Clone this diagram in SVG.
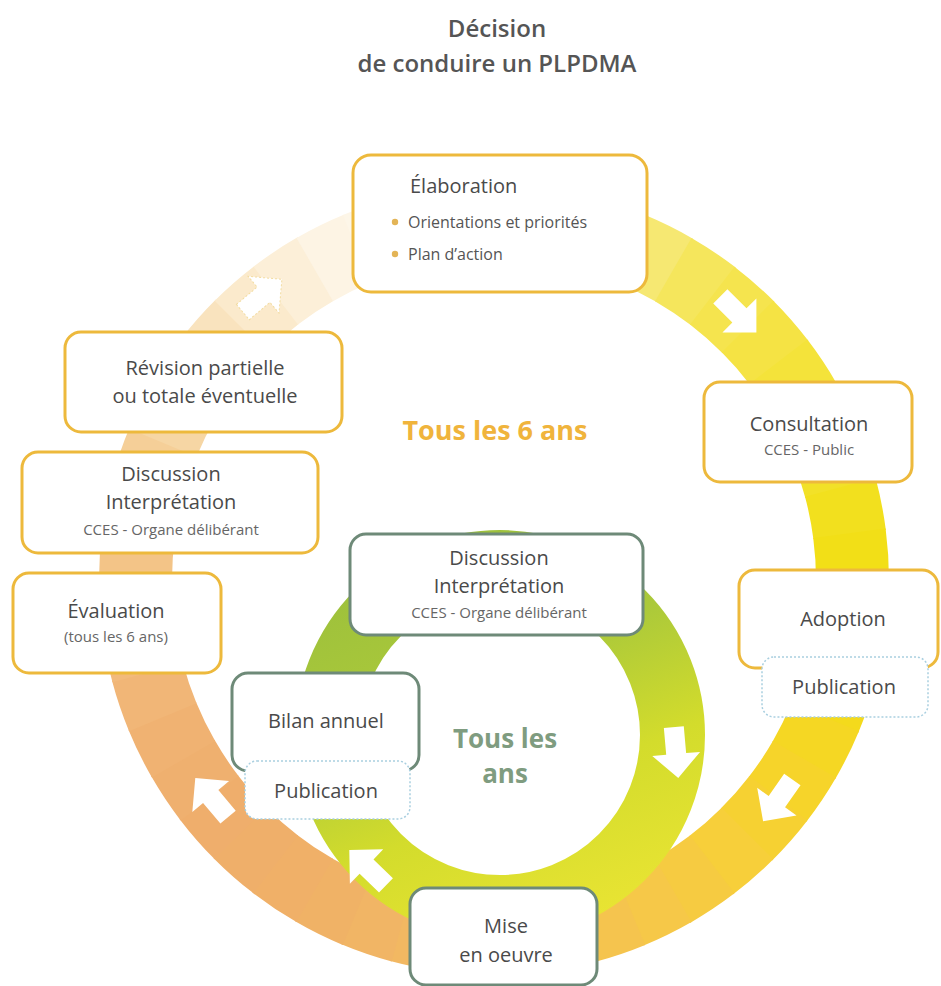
<svg xmlns="http://www.w3.org/2000/svg" xmlns:xlink="http://www.w3.org/1999/xlink" width="941" height="986" viewBox="0 0 941 986">
<defs>
<style>
text{font-family:"Open Sans","Noto Sans","Liberation Sans",sans-serif;}
.lbl{font-size:20px;fill:#4a4a4a;text-anchor:middle;}
.sub{font-size:15px;fill:#666;text-anchor:middle;}
.blt{font-size:16px;fill:#555;}
.ob{fill:#fff;stroke:#edb93c;stroke-width:3;}
.ib{fill:#fff;stroke:#6e8a78;stroke-width:3;}
.pb{fill:#fff;stroke:#a9cfe0;stroke-width:1.5;stroke-dasharray:2 2;}
.seg{fill:none;stroke-width:73;stroke-dasharray:48.5 2300;}
.arr{fill:#fff;}
</style>
<path id="arrow" d="M-25,-10 L2,-10 L2,-24 L26,0 L2,24 L2,10 L-25,10 Z"/>
<linearGradient id="innerGrad" gradientUnits="userSpaceOnUse" x1="420" y1="540" x2="580" y2="930">
<stop offset="0" stop-color="#9cc03c"/>
<stop offset="0.35" stop-color="#abc93a"/>
<stop offset="0.65" stop-color="#d3dc2c"/>
<stop offset="1" stop-color="#e9e433"/>
</linearGradient>
</defs>
<rect width="941" height="986" fill="#fff"/>

<g id="title">
<text x="497" y="37" text-anchor="middle" font-size="24" font-weight="600" fill="#555">Décision</text>
<text x="497" y="72" text-anchor="middle" font-size="24" font-weight="600" fill="#555">de conduire un PLPDMA</text>
</g>

<g id="outer-ring">
<circle class="seg" cx="494" cy="580" r="358.5" stroke="#f2df10" transform="rotate(0 494 580)"/>
<circle class="seg" cx="494" cy="580" r="358.5" stroke="#f3dc16" transform="rotate(7.5 494 580)"/>
<circle class="seg" cx="494" cy="580" r="358.5" stroke="#f4da1c" transform="rotate(15 494 580)"/>
<circle class="seg" cx="494" cy="580" r="358.5" stroke="#f5d723" transform="rotate(22.5 494 580)"/>
<circle class="seg" cx="494" cy="580" r="358.5" stroke="#f6d42a" transform="rotate(30 494 580)"/>
<circle class="seg" cx="494" cy="580" r="358.5" stroke="#f6d132" transform="rotate(37.5 494 580)"/>
<circle class="seg" cx="494" cy="580" r="358.5" stroke="#f7cf3a" transform="rotate(45 494 580)"/>
<circle class="seg" cx="494" cy="580" r="358.5" stroke="#f6cb41" transform="rotate(52.5 494 580)"/>
<circle class="seg" cx="494" cy="580" r="358.5" stroke="#f6c848" transform="rotate(60 494 580)"/>
<circle class="seg" cx="494" cy="580" r="358.5" stroke="#f5c44e" transform="rotate(67.5 494 580)"/>
<circle class="seg" cx="494" cy="580" r="358.5" stroke="#f5c155" transform="rotate(75 494 580)"/>
<circle class="seg" cx="494" cy="580" r="358.5" stroke="#f4be5a" transform="rotate(82.5 494 580)"/>
<circle class="seg" cx="494" cy="580" r="358.5" stroke="#f3bb60" transform="rotate(90 494 580)"/>
<circle class="seg" cx="494" cy="580" r="358.5" stroke="#f2b862" transform="rotate(97.5 494 580)"/>
<circle class="seg" cx="494" cy="580" r="358.5" stroke="#f1b565" transform="rotate(105 494 580)"/>
<circle class="seg" cx="494" cy="580" r="358.5" stroke="#f0b266" transform="rotate(112.5 494 580)"/>
<circle class="seg" cx="494" cy="580" r="358.5" stroke="#f0b068" transform="rotate(120 494 580)"/>
<circle class="seg" cx="494" cy="580" r="358.5" stroke="#efaf6a" transform="rotate(127.5 494 580)"/>
<circle class="seg" cx="494" cy="580" r="358.5" stroke="#efae6c" transform="rotate(135 494 580)"/>
<circle class="seg" cx="494" cy="580" r="358.5" stroke="#efb06f" transform="rotate(142.5 494 580)"/>
<circle class="seg" cx="494" cy="580" r="358.5" stroke="#f0b272" transform="rotate(150 494 580)"/>
<circle class="seg" cx="494" cy="580" r="358.5" stroke="#f1b677" transform="rotate(157.5 494 580)"/>
<circle class="seg" cx="494" cy="580" r="358.5" stroke="#f2ba7c" transform="rotate(165 494 580)"/>
<circle class="seg" cx="494" cy="580" r="358.5" stroke="#f2bf81" transform="rotate(172.5 494 580)"/>
<circle class="seg" cx="494" cy="580" r="358.5" stroke="#f3c487" transform="rotate(180 494 580)"/>
<circle class="seg" cx="494" cy="580" r="358.5" stroke="#f4c98f" transform="rotate(187.5 494 580)"/>
<circle class="seg" cx="494" cy="580" r="358.5" stroke="#f5cf98" transform="rotate(195 494 580)"/>
<circle class="seg" cx="494" cy="580" r="358.5" stroke="#f6d6a4" transform="rotate(202.5 494 580)"/>
<circle class="seg" cx="494" cy="580" r="358.5" stroke="#f8ddb0" transform="rotate(210 494 580)"/>
<circle class="seg" cx="494" cy="580" r="358.5" stroke="#f9e3be" transform="rotate(217.5 494 580)"/>
<circle class="seg" cx="494" cy="580" r="358.5" stroke="#fbeacc" transform="rotate(225 494 580)"/>
<circle class="seg" cx="494" cy="580" r="358.5" stroke="#fcefd8" transform="rotate(232.5 494 580)"/>
<circle class="seg" cx="494" cy="580" r="358.5" stroke="#fdf4e4" transform="rotate(240 494 580)"/>
<circle class="seg" cx="494" cy="580" r="358.5" stroke="#fdf6e8" transform="rotate(247.5 494 580)"/>
<circle class="seg" cx="494" cy="580" r="358.5" stroke="#fef8ec" transform="rotate(255 494 580)"/>
<circle class="seg" cx="494" cy="580" r="358.5" stroke="#fdf5da" transform="rotate(262.5 494 580)"/>
<circle class="seg" cx="494" cy="580" r="358.5" stroke="#fcf3c8" transform="rotate(270 494 580)"/>
<circle class="seg" cx="494" cy="580" r="358.5" stroke="#fbf0b0" transform="rotate(277.5 494 580)"/>
<circle class="seg" cx="494" cy="580" r="358.5" stroke="#f8eb90" transform="rotate(285 494 580)"/>
<circle class="seg" cx="494" cy="580" r="358.5" stroke="#f6e872" transform="rotate(292.5 494 580)"/>
<circle class="seg" cx="494" cy="580" r="358.5" stroke="#f5e65c" transform="rotate(300 494 580)"/>
<circle class="seg" cx="494" cy="580" r="358.5" stroke="#f5e44e" transform="rotate(307.5 494 580)"/>
<circle class="seg" cx="494" cy="580" r="358.5" stroke="#f5e344" transform="rotate(315 494 580)"/>
<circle class="seg" cx="494" cy="580" r="358.5" stroke="#f4e33a" transform="rotate(322.5 494 580)"/>
<circle class="seg" cx="494" cy="580" r="358.5" stroke="#f3e232" transform="rotate(330 494 580)"/>
<circle class="seg" cx="494" cy="580" r="358.5" stroke="#f2e128" transform="rotate(337.5 494 580)"/>
<circle class="seg" cx="494" cy="580" r="358.5" stroke="#f2e01e" transform="rotate(345 494 580)"/>
<circle class="seg" cx="494" cy="580" r="358.5" stroke="#f2df17" transform="rotate(352.5 494 580)"/>
</g>

<g id="inner-ring">
<circle cx="500" cy="735" r="172.5" fill="none" stroke="url(#innerGrad)" stroke-width="65"/>
</g>

<g id="connectors">
<use xlink:href="#arrow" href="#arrow" class="arr" fill="#fff" stroke="#f2dca0" stroke-width="1" stroke-dasharray="2 2" transform="translate(262 296) rotate(-40)"/>
<use xlink:href="#arrow" href="#arrow" class="arr" transform="translate(738 314) rotate(45)"/>
<use xlink:href="#arrow" href="#arrow" class="arr" transform="translate(778 800) rotate(125)"/>
<use xlink:href="#arrow" href="#arrow" class="arr" transform="translate(212 798) rotate(230)"/>
<use xlink:href="#arrow" href="#arrow" class="arr" transform="translate(676 752) rotate(85)"/>
<use xlink:href="#arrow" href="#arrow" class="arr" transform="translate(368 868) rotate(224)"/>
</g>

<g id="center-labels">
<text x="495" y="440" text-anchor="middle" font-size="27" font-weight="700" fill="#f0b43c">Tous les 6 ans</text>
<text x="505" y="748" text-anchor="middle" font-size="26" font-weight="700" fill="#7f9c80">Tous les</text>
<text x="505" y="783" text-anchor="middle" font-size="26" font-weight="700" fill="#7f9c80">ans</text>
</g>

<g id="elaboration">
<rect class="ob" x="353" y="155" width="294" height="137" rx="18" stroke="#efc12c"/>
<text x="410" y="193" font-size="20" fill="#4a4a4a">Élaboration</text>
<circle cx="395" cy="222" r="3.2" fill="#e3b456"/>
<text class="blt" x="408" y="228">Orientations et priorités</text>
<circle cx="395" cy="254" r="3.2" fill="#e3b456"/>
<text class="blt" x="408" y="260">Plan d’action</text>
</g>

<g id="revision">
<rect class="ob" x="65" y="332" width="277" height="100" rx="16"/>
<text class="lbl" x="205" y="375">Révision partielle</text>
<text class="lbl" x="205" y="403">ou totale éventuelle</text>
</g>

<g id="discussion-6ans">
<rect class="ob" x="22" y="452" width="296" height="101" rx="16"/>
<text class="lbl" x="171" y="481">Discussion</text>
<text class="lbl" x="171" y="509">Interprétation</text>
<text class="sub" x="171" y="535">CCES - Organe délibérant</text>
</g>

<g id="evaluation">
<rect class="ob" x="13" y="573" width="208" height="100" rx="16"/>
<text class="lbl" x="116" y="618">Évaluation</text>
<text class="sub" x="116" y="642">(tous les 6 ans)</text>
</g>

<g id="consultation">
<rect class="ob" x="704" y="382" width="208" height="100" rx="16"/>
<text class="lbl" x="809" y="431">Consultation</text>
<text class="sub" x="809" y="455">CCES - Public</text>
</g>

<g id="adoption">
<rect class="ob" x="739" y="570" width="199" height="98" rx="16"/>
<text class="lbl" x="843" y="626">Adoption</text>
</g>

<g id="publication-adoption">
<rect class="pb" x="762" y="657" width="166" height="60" rx="12"/>
<text class="lbl" x="844" y="694">Publication</text>
</g>

<g id="discussion-annuelle">
<rect class="ib" x="350" y="534" width="293" height="101" rx="16"/>
<text class="lbl" x="499" y="565">Discussion</text>
<text class="lbl" x="499" y="593">Interprétation</text>
<text class="sub" x="499" y="618">CCES - Organe délibérant</text>
</g>

<g id="bilan">
<rect class="ib" x="232" y="673" width="187" height="98" rx="16" stroke="#6d7f70"/>
<text class="lbl" x="326" y="728">Bilan annuel</text>
</g>

<g id="publication-bilan">
<rect class="pb" x="245" y="761" width="165" height="58" rx="12"/>
<text class="lbl" x="326" y="798">Publication</text>
</g>

<g id="mise-en-oeuvre">
<rect class="ib" x="410" y="888" width="187" height="97" rx="16" stroke="#6c9a72"/>
<text class="lbl" x="506" y="933">Mise</text>
<text class="lbl" x="506" y="962">en oeuvre</text>
</g>
</svg>
